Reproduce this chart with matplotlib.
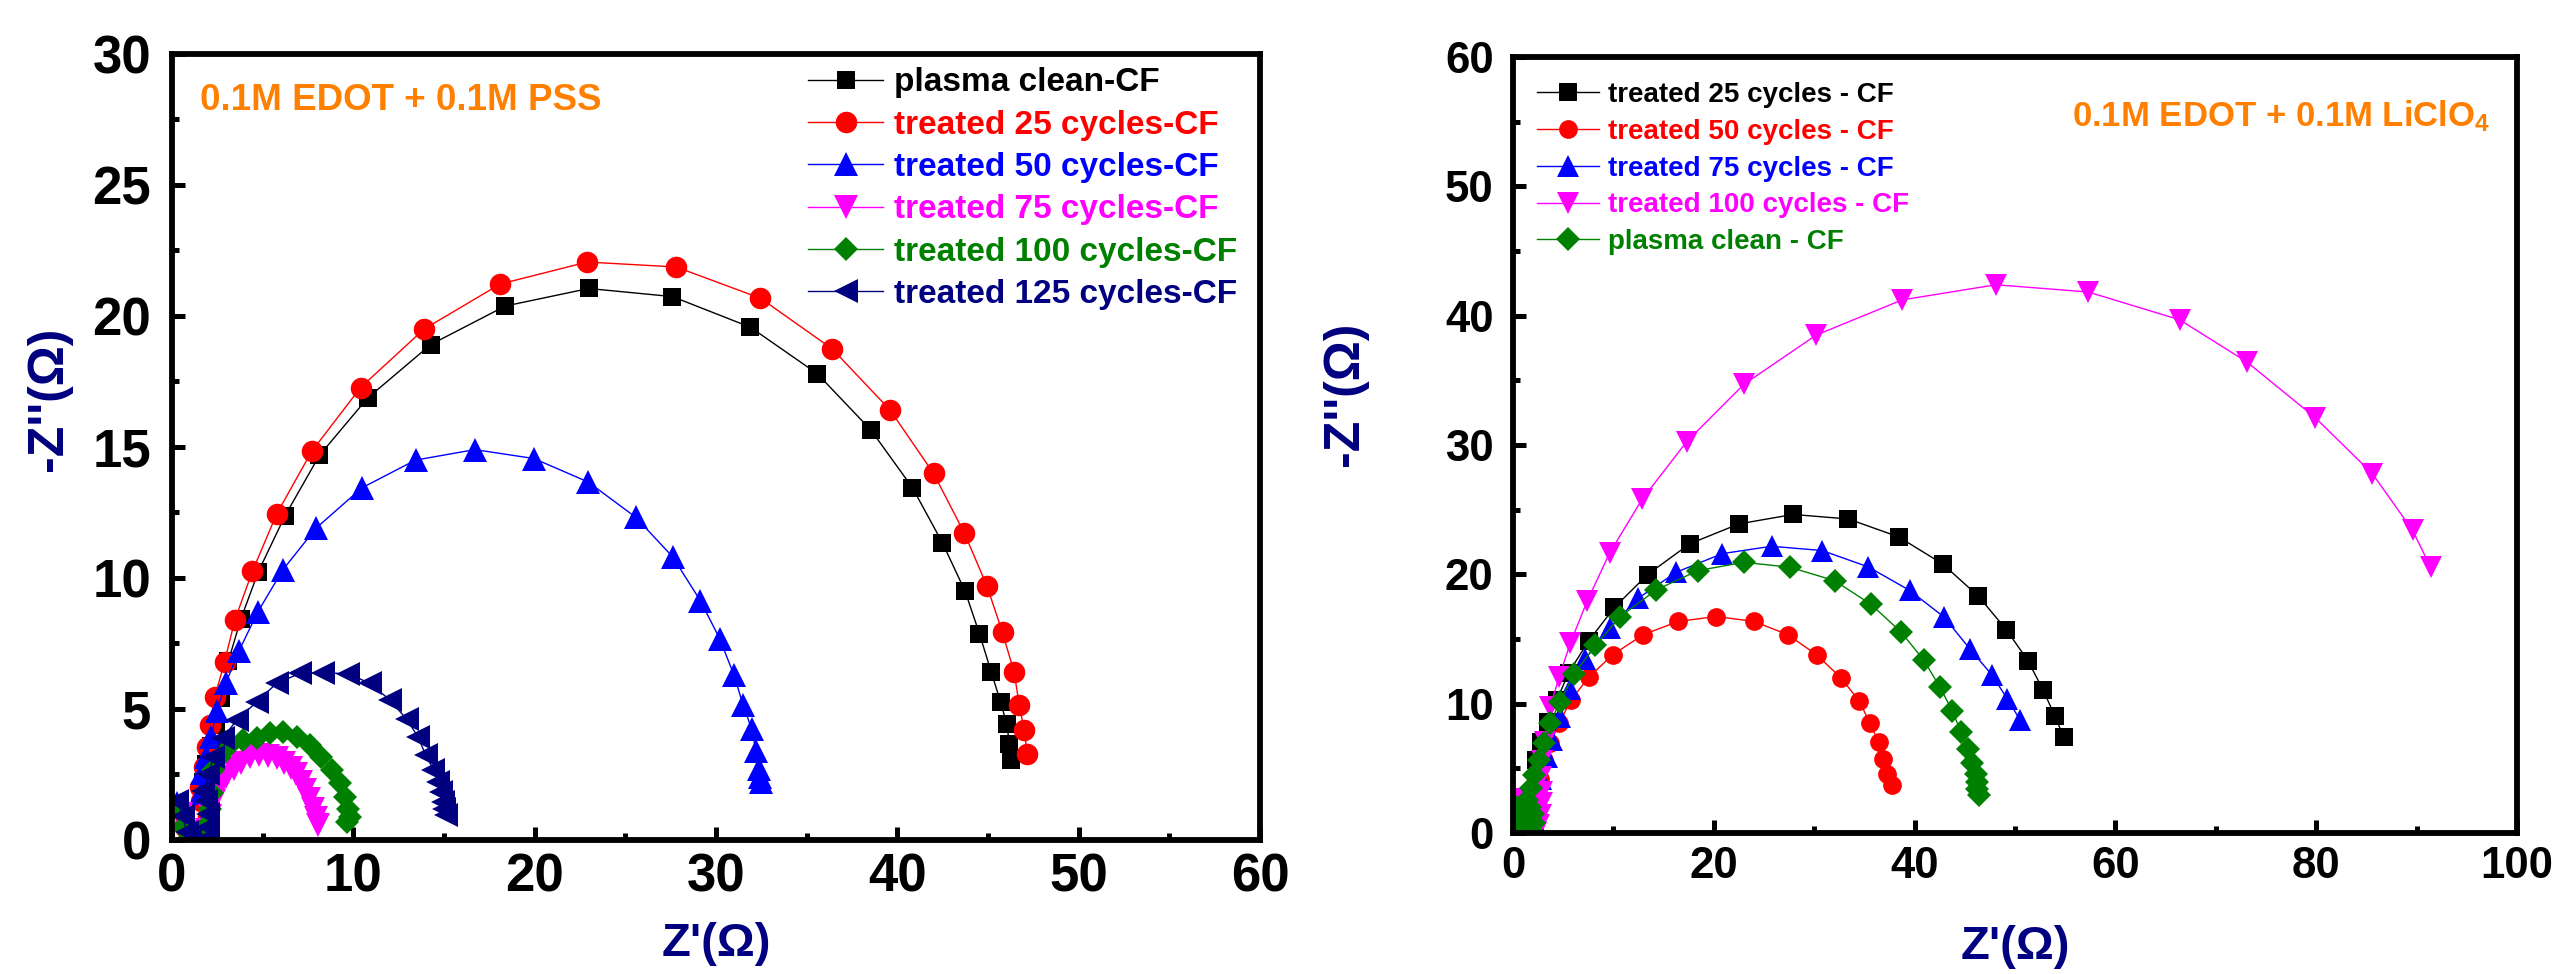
import matplotlib
matplotlib.use("Agg")
import matplotlib.pyplot as plt
from matplotlib.ticker import MultipleLocator

plt.rcParams['font.family'] = ['Liberation Sans', 'DejaVu Sans']
plt.rcParams['font.weight'] = 'bold'
plt.rcParams['mathtext.fontset'] = 'custom'
plt.rcParams['mathtext.rm'] = 'Liberation Sans:bold'
plt.rcParams['mathtext.bf'] = 'Liberation Sans:bold'
plt.rcParams['mathtext.it'] = 'Liberation Sans:bold'

# ---------------- Left panel data: 0.1M EDOT + 0.1M PSS ----------------
pss_labels = ["plasma clean-CF", "treated 25 cycles-CF", "treated 50 cycles-CF",
              "treated 75 cycles-CF", "treated 100 cycles-CF", "treated 125 cycles-CF"]

pss_plasma_x = [0.4, 0.7, 1.0, 1.5, 1.9, 2.0, 1.8, 1.7, 1.9, 2.15, 2.43, 2.69, 3.11, 3.79, 4.76, 6.23,
                8.13, 10.79, 14.27, 18.38, 22.98, 27.6, 31.9, 35.58, 38.54, 40.83, 42.49, 43.74,
                44.53, 45.17, 45.69, 46.04, 46.18, 46.27]
pss_plasma_y = [1.3, 0.6, 0.1, 0.0, 0.3, 0.9, 1.5, 2.2, 2.9, 3.6, 4.38, 5.43, 6.83, 8.42, 10.24, 12.37,
                14.68, 16.87, 18.91, 20.38, 21.05, 20.74, 19.57, 17.8, 15.65, 13.45, 11.34, 9.49,
                7.87, 6.43, 5.28, 4.41, 3.67, 3.05]

pss_25_x = [0.4, 0.7, 1.0, 1.5, 1.9, 2.0, 1.6, 1.55, 1.74, 1.92, 2.1, 2.37, 2.9, 3.47, 4.43, 5.77,
            7.7, 10.4, 13.9, 18.1, 22.9, 27.8, 32.45, 36.4, 39.6, 42.0, 43.7, 44.95, 45.8,
            46.44, 46.73, 46.99, 47.17]
pss_25_y = [1.2, 0.5, 0.1, 0.0, 0.3, 0.9, 1.5, 2.03, 2.8, 3.54, 4.39, 5.47, 6.81, 8.4, 10.25, 12.44,
            14.83, 17.27, 19.5, 21.22, 22.06, 21.87, 20.68, 18.75, 16.41, 13.99, 11.71, 9.68, 7.92,
            6.4, 5.14, 4.21, 3.29]

pss_50_x = [0.3, 0.6, 0.9, 1.4, 1.9, 2.0, 1.6, 1.67, 1.9, 2.16, 2.46, 2.98, 3.68, 4.73, 6.1, 7.94,
            10.47, 13.43, 16.7, 19.96, 22.96, 25.57, 27.62, 29.14, 30.2, 31.0, 31.5, 31.97,
            32.2, 32.35, 32.42, 32.5]
pss_50_y = [1.4, 0.8, 0.2, 0.0, 0.3, 1.0, 1.8, 2.54, 3.16, 3.92, 4.92, 6.0, 7.2, 8.7, 10.3, 11.9,
            13.44, 14.5, 14.9, 14.56, 13.66, 12.32, 10.8, 9.13, 7.69, 6.28, 5.14, 4.23,
            3.4, 2.72, 2.42, 2.23]

pss_75_x = [0.5, 0.8, 1.2, 1.7, 1.95, 2.1, 2.3, 2.6, 3.0, 3.4, 3.8, 4.3, 4.8, 5.3, 5.8, 6.2,
            6.55, 6.85, 7.1, 7.35, 7.55, 7.75, 7.95, 8.07]
pss_75_y = [1.0, 0.3, 0.0, 0.0, 0.4, 0.9, 1.5, 2.0, 2.42, 2.7, 2.95, 3.15, 3.24, 3.22, 3.12, 2.95,
            2.75, 2.5, 2.2, 1.9, 1.55, 1.2, 0.85, 0.57]

pss_100_x = [0.4, 0.6, 0.8, 1.3, 1.9, 2.0, 2.1, 2.2, 2.28, 2.65, 3.2, 3.93, 4.67, 5.4, 6.14, 6.87,
             7.6, 8.24, 8.8, 9.26, 9.54, 9.73, 9.82, 9.64]
pss_100_y = [1.2, 0.5, 0.0, 0.0, 0.1, 0.6, 1.2, 1.8, 2.67, 3.18, 3.62, 3.81, 3.88, 4.07, 4.13, 3.94,
             3.62, 3.18, 2.67, 2.16, 1.65, 1.2, 0.89, 0.7]

pss_125_x = [0.3, 0.6, 0.8, 1.0, 1.4, 1.9, 2.0, 2.0, 1.9, 1.73, 2.0, 2.28, 2.8, 3.57, 4.67, 5.77,
             7.06, 8.35, 9.72, 10.92, 12.02, 12.94, 13.58, 13.99, 14.42, 14.69, 14.82, 14.97,
             15.02, 15.1]
pss_125_y = [1.5, 0.9, 0.3, 0.0, -0.1, 0.0, 0.5, 1.0, 1.5, 1.87, 2.5, 3.16, 3.9, 4.57, 5.27, 5.98,
             6.36, 6.39, 6.34, 5.98, 5.34, 4.61, 3.92, 3.24, 2.69, 2.22, 1.84, 1.46,
             1.2, 0.95]

# ---------------- Right panel data: 0.1M EDOT + 0.1M LiClO4 ----------------
li_labels = ["treated 25 cycles - CF", "treated 50 cycles - CF", "treated 75 cycles - CF",
             "treated 100 cycles - CF", "plasma clean - CF"]

li_25_x = [0.4, 0.8, 1.2, 1.8, 2.2, 2.3, 2.3, 2.33, 2.79, 3.45, 4.38, 5.55, 7.54, 10.1, 13.4,
           17.6, 22.5, 27.9, 33.4, 38.4, 42.8, 46.36, 49.15, 51.3, 52.8, 53.97, 54.84]
li_25_y = [2.0, 1.0, 0.3, 0.2, 0.8, 1.8, 3.6, 5.68, 7.0, 8.57, 10.3, 12.4, 14.86, 17.44, 19.98,
           22.36, 23.9, 24.63, 24.28, 22.9, 20.8, 18.3, 15.71, 13.31, 11.06, 9.05, 7.44]

li_50_x = [0.3, 0.7, 1.1, 1.7, 2.2, 2.4, 2.5, 2.7, 3.06, 3.72, 4.62, 5.78, 7.54, 9.93, 12.96,
           16.45, 20.24, 24.0, 27.38, 30.24, 32.63, 34.5, 35.55, 36.45, 36.9, 37.3, 37.75]
li_50_y = [2.2, 1.2, 0.4, 0.1, 0.7, 1.7, 2.8, 4.2, 5.64, 6.98, 8.53, 10.28, 12.04, 13.78, 15.33,
           16.36, 16.74, 16.36, 15.33, 13.78, 12.02, 10.2, 8.48, 7.0, 5.71, 4.6, 3.69]

li_75_x = [0.3, 0.6, 1.0, 1.6, 2.1, 2.3, 2.5, 2.8, 3.38, 3.88, 4.71, 5.7, 7.2, 9.63, 12.5, 16.25,
           20.84, 25.75, 30.8, 35.4, 39.5, 42.93, 45.5, 47.7, 49.25, 50.5]
li_75_y = [2.4, 1.3, 0.5, 0.1, 0.6, 1.6, 2.8, 4.2, 5.9, 7.2, 8.95, 11.12, 13.47, 15.85, 18.17, 20.16,
           21.6, 22.17, 21.84, 20.57, 18.76, 16.7, 14.24, 12.22, 10.36, 8.74]

li_100_x = [0.5, 1.0, 1.6, 2.3, 2.6, 2.8, 2.9, 2.9, 2.8, 2.9, 3.2, 3.71, 4.61, 5.71, 7.37, 9.63,
            12.86, 17.3, 23.0, 30.2, 38.76, 48.1, 57.3, 66.4, 73.1, 79.9, 85.6, 89.6, 91.4]
li_100_y = [2.6, 1.4, 0.4, 0.0, 0.6, 1.4, 2.3, 3.2, 4.3, 5.6, 7.0, 9.76, 12.1, 14.68, 17.9, 21.66,
            25.8, 30.26, 34.69, 38.5, 41.22, 42.39, 41.83, 39.68, 36.42, 32.12, 27.78, 23.4, 20.55]

li_plasma_x = [0.3, 0.6, 0.9, 1.3, 1.8, 2.1, 2.0, 1.7, 1.4, 1.8, 2.12, 2.55, 3.05, 3.72, 4.65, 6.11,
               8.2, 10.7, 14.29, 18.44, 23.0, 27.58, 32.03, 35.62, 38.6, 40.9, 42.53, 43.77,
               44.6, 45.27, 45.76, 46.1, 46.26, 46.26, 46.43]
li_plasma_y = [2.0, 1.1, 0.4, 0.0, 0.2, 0.8, 1.5, 2.0, 2.55, 3.45, 4.48, 5.64, 6.93, 8.48, 10.16, 12.3,
               14.5, 16.74, 18.81, 20.29, 20.93, 20.55, 19.51, 17.7, 15.58, 13.39, 11.27, 9.43,
               7.83, 6.46, 5.38, 4.55, 3.96, 3.44, 2.92]

NAVY = '#000080'
ORANGE = '#FF8000'

fig = plt.figure(figsize=(25.56, 9.74), dpi=100)
axL = fig.add_axes([0.06729, 0.13758, 0.42567, 0.80698])
axR = fig.add_axes([0.59194, 0.14476, 0.39280, 0.79671])

left_series = [
    (pss_plasma_x, pss_plasma_y, 'black', 's', 13.5),
    (pss_25_x, pss_25_y, '#FF0000', 'o', 15.5),
    (pss_50_x, pss_50_y, '#0000FF', '^', 17),
    (pss_75_x, pss_75_y, '#FF00FF', 'v', 17),
    (pss_100_x, pss_100_y, '#008000', 'D', 12.5),
    (pss_125_x, pss_125_y, NAVY, '<', 17),
]
for (xs, ys, c, m, ms), lab in zip(left_series, pss_labels):
    axL.plot(xs, ys, color=c, marker=m, markersize=ms, markeredgewidth=0, lw=1.0, label=lab)

right_series = [
    (li_25_x, li_25_y, 'black', 's', 12.5),
    (li_50_x, li_50_y, '#FF0000', 'o', 13.5),
    (li_75_x, li_75_y, '#0000FF', '^', 15.5),
    (li_100_x, li_100_y, '#FF00FF', 'v', 15.5),
    (li_plasma_x, li_plasma_y, '#008000', 'D', 12),
]
for (xs, ys, c, m, ms), lab in zip(right_series, li_labels):
    axR.plot(xs, ys, color=c, marker=m, markersize=ms, markeredgewidth=0, lw=1.0, label=lab)


def style(ax, xmax, ymax, xmaj, xmin, ymaj, ymin, lsize, xpad, ypad):
    ax.set_xlim(0, xmax)
    ax.set_ylim(0, ymax)
    ax.xaxis.set_major_locator(MultipleLocator(xmaj))
    ax.xaxis.set_minor_locator(MultipleLocator(xmin))
    ax.yaxis.set_major_locator(MultipleLocator(ymaj))
    ax.yaxis.set_minor_locator(MultipleLocator(ymin))
    for s in ax.spines.values():
        s.set_linewidth(4.2)
    ax.tick_params(which='major', direction='in', length=9.5, width=3.6, labelsize=lsize)
    ax.tick_params(which='minor', direction='in', length=5, width=3.6)
    ax.tick_params(axis='x', which='major', pad=xpad)
    ax.tick_params(axis='y', which='major', pad=ypad)
    for t in ax.get_xticklabels() + ax.get_yticklabels():
        t.set_fontweight('bold')


style(axL, 60, 30, 10, 5, 5, 2.5, 38, 9, 15)
style(axR, 100, 60, 20, 10, 10, 5, 31.5, 9, 14)

axL.set_xlabel("Z'(\u03a9)", fontsize=34, color=NAVY, fontweight='bold')
axL.set_ylabel("-Z''(\u03a9)", fontsize=36, color=NAVY, fontweight='bold')
axL.xaxis.set_label_coords(0.5, -0.104)
axL.yaxis.set_label_coords(-0.092, 0.561)

axR.set_xlabel("Z'(\u03a9)", fontsize=34, color=NAVY, fontweight='bold')
axR.set_ylabel("-Z''(\u03a9)", fontsize=36, color=NAVY, fontweight='bold')
axR.xaxis.set_label_coords(0.5, -0.118)
axR.yaxis.set_label_coords(-0.144, 0.566)

axL.text(0.0257, 0.929, "0.1M EDOT + 0.1M PSS", transform=axL.transAxes, color=ORANGE,
         fontsize=26.5, fontweight='bold', ha='left', va='baseline')
axR.text(0.973, 0.911, r"0.1M EDOT + 0.1M LiClO$_4$", transform=axR.transAxes, color=ORANGE,
         fontsize=25, fontweight='bold', ha='right', va='baseline')

legL = axL.legend(loc='upper left', bbox_to_anchor=(0.5846, 0.983), frameon=False,
                  fontsize=24, borderpad=0, borderaxespad=0, handlelength=2.25,
                  handletextpad=0.33, labelspacing=0.34, numpoints=1)
for t, (_, _, c, _, _) in zip(legL.get_texts(), left_series):
    t.set_color(c)
    t.set_fontweight('bold')

legR = axR.legend(loc='upper left', bbox_to_anchor=(0.024, 0.968), frameon=False,
                  fontsize=20, borderpad=0, borderaxespad=0, handlelength=2.22,
                  handletextpad=0.32, labelspacing=0.39, numpoints=1)
for t, (_, _, c, _, _) in zip(legR.get_texts(), right_series):
    t.set_color(c)
    t.set_fontweight('bold')

fig.savefig("out.png", dpi=100)
